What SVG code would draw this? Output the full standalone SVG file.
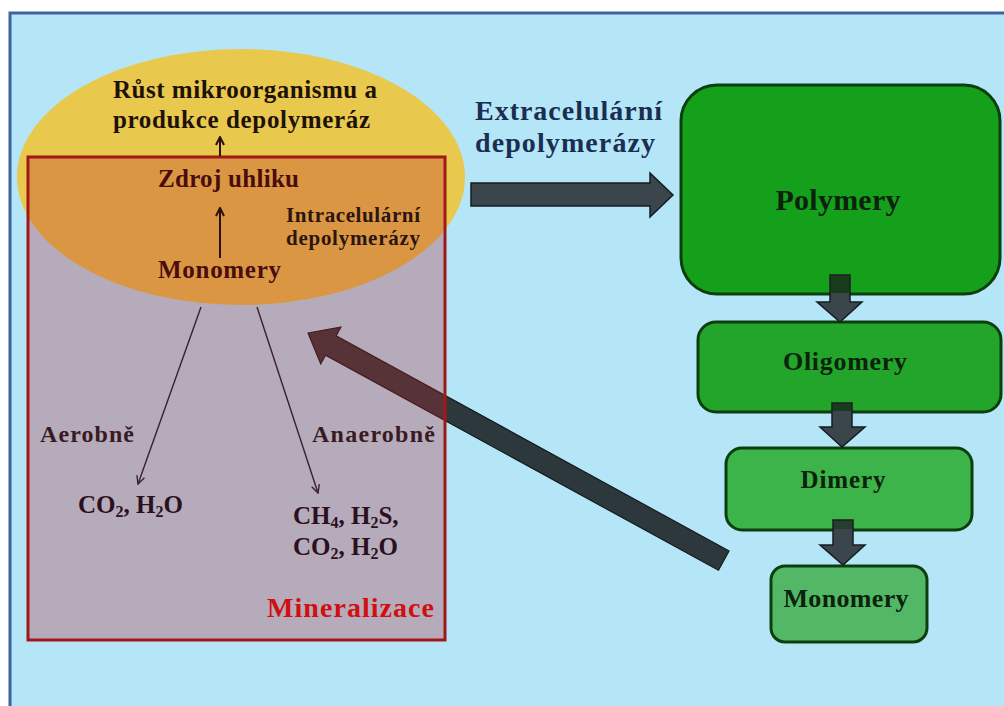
<svg xmlns="http://www.w3.org/2000/svg" width="1004" height="706" viewBox="0 0 1004 706">
<style>
text { font-family: "Liberation Serif", "Times New Roman", serif; font-weight: bold; }
.box { stroke: #0c3e0e; stroke-width: 3; }
.darr { fill: #3a454c; stroke: #161c20; stroke-width: 1.5; }
.thin { stroke: #3a2030; stroke-width: 1.4; fill: none; }
.up { stroke: #2a1010; stroke-width: 2; fill: none; }
.lbl { fill: #0c220c; text-anchor: middle; }
</style>
<defs>
<marker id="chev" viewBox="0 0 10 10" refX="9" refY="5" markerWidth="10" markerHeight="10" markerUnits="userSpaceOnUse" orient="auto">
<path d="M1,1 L9,5 L1,9" fill="none" stroke="#3a2030" stroke-width="1.4"/>
</marker>
<marker id="chevUp" viewBox="0 0 10 10" refX="9" refY="5" markerWidth="10" markerHeight="10" markerUnits="userSpaceOnUse" orient="auto">
<path d="M1,1 L9,5 L1,9" fill="none" stroke="#2a1010" stroke-width="2"/>
</marker>
</defs>
<rect x="0" y="0" width="1004" height="706" fill="#ffffff"/>
<rect x="10" y="13" width="1010" height="710" fill="#b5e6f8" stroke="#41609e" stroke-width="3"/>

<g id="node-cell">
<ellipse cx="241" cy="177" rx="224" ry="128" fill="#e9c84e"/>
</g>

<g id="connectors">
<path class="darr" d="M471,183 L650,183 L650,173 L673,195 L650,217 L650,206 L471,206 Z"/>
<path d="M0,0 L26,-21 L26,-11 L474,-11 L474,11 L26,11 L26,21 Z" fill="#2d383c" stroke="#151a1c" stroke-width="1.2" transform="translate(308,333) rotate(28.7)"/>
</g>

<g id="node-mineralizace">
<rect x="28" y="157" width="417" height="483" fill="#b8242a" fill-opacity="0.3" stroke="#a01818" stroke-width="3"/>
<text x="267" y="617" font-size="28" fill="#d01010" textLength="167">Mineralizace</text>
</g>

<g id="cell-texts">
<text x="113" y="98" font-size="25" fill="#1e1208" textLength="264">Růst mikroorganismu a</text>
<text x="113" y="128" font-size="25" fill="#1e1208" textLength="257">produkce depolymeráz</text>
<text x="158" y="187" font-size="25" fill="#4a0d0d" textLength="141">Zdroj uhliku</text>
<text x="286" y="222" font-size="21" fill="#2a1510" textLength="134">Intracelulární</text>
<text x="286" y="245" font-size="21" fill="#2a1510" textLength="134">depolymerázy</text>
<text x="158" y="278" font-size="25" fill="#4a0d0d" textLength="123">Monomery</text>
<text x="40" y="442" font-size="24" fill="#3a1a22" textLength="94">Aerobně</text>
<text x="312" y="442" font-size="24" fill="#3a1a22" textLength="123">Anaerobně</text>
<text x="78" y="513" font-size="25" fill="#2a1020">CO<tspan font-size="16" dy="4">2</tspan><tspan dy="-4">, H</tspan><tspan font-size="16" dy="4">2</tspan><tspan dy="-4">O</tspan></text>
<text x="293" y="524" font-size="25" fill="#2a1020">CH<tspan font-size="16" dy="4">4</tspan><tspan dy="-4">, H</tspan><tspan font-size="16" dy="4">2</tspan><tspan dy="-4">S,</tspan></text>
<text x="293" y="555" font-size="25" fill="#2a1020">CO<tspan font-size="16" dy="4">2</tspan><tspan dy="-4">, H</tspan><tspan font-size="16" dy="4">2</tspan><tspan dy="-4">O</tspan></text>
</g>

<g id="connectors-inner">
<line class="up" x1="220" y1="156" x2="220" y2="137" marker-end="url(#chevUp)"/>
<line class="up" x1="220" y1="258" x2="220" y2="208" marker-end="url(#chevUp)"/>
<line class="thin" x1="201" y1="307" x2="138" y2="484" marker-end="url(#chev)"/>
<line class="thin" x1="257" y1="307" x2="318" y2="493" marker-end="url(#chev)"/>
</g>

<g id="label-extra">
<text x="475" y="120" font-size="28" fill="#1a2e52" textLength="187">Extracelulární</text>
<text x="475" y="152" font-size="28" fill="#1a2e52" textLength="180">depolymerázy</text>
</g>

<g id="node-polymery">
<rect class="box" x="681" y="85" width="319" height="209" rx="36" fill="#14a01a"/>
<text class="lbl" x="838" y="210" font-size="30" textLength="125">Polymery</text>
</g>
<g id="node-oligomery">
<rect class="box" x="698" y="322" width="303" height="90" rx="18" fill="#22a52a"/>
<text class="lbl" x="845" y="370" font-size="26" textLength="124">Oligomery</text>
</g>
<g id="node-dimery">
<rect class="box" x="726" y="448" width="246" height="82" rx="16" fill="#3cb44a"/>
<text class="lbl" x="843" y="488" font-size="25" textLength="85">Dimery</text>
</g>
<g id="node-monomery">
<rect class="box" x="771" y="566" width="156" height="76" rx="14" fill="#52b866"/>
<text class="lbl" x="846" y="607" font-size="26" textLength="125">Monomery</text>
</g>

<g id="connectors-chain">
<path class="darr" d="M830,275 L850,275 L850,302 L862,302 L840,322 L817,302 L830,302 Z"/>
<rect x="831" y="276" width="18" height="17" fill="#1a3a1c"/>
<path class="darr" d="M832,403 L852,403 L852,427 L865,427 L842,447 L820,427 L832,427 Z"/>
<rect x="833" y="404" width="18" height="7" fill="#1a3a1c"/>
<path class="darr" d="M833,520 L853,520 L853,545 L865,545 L843,565 L820,545 L833,545 Z"/>
<rect x="834" y="521" width="18" height="8" fill="#24402a"/>
</g>
</svg>
